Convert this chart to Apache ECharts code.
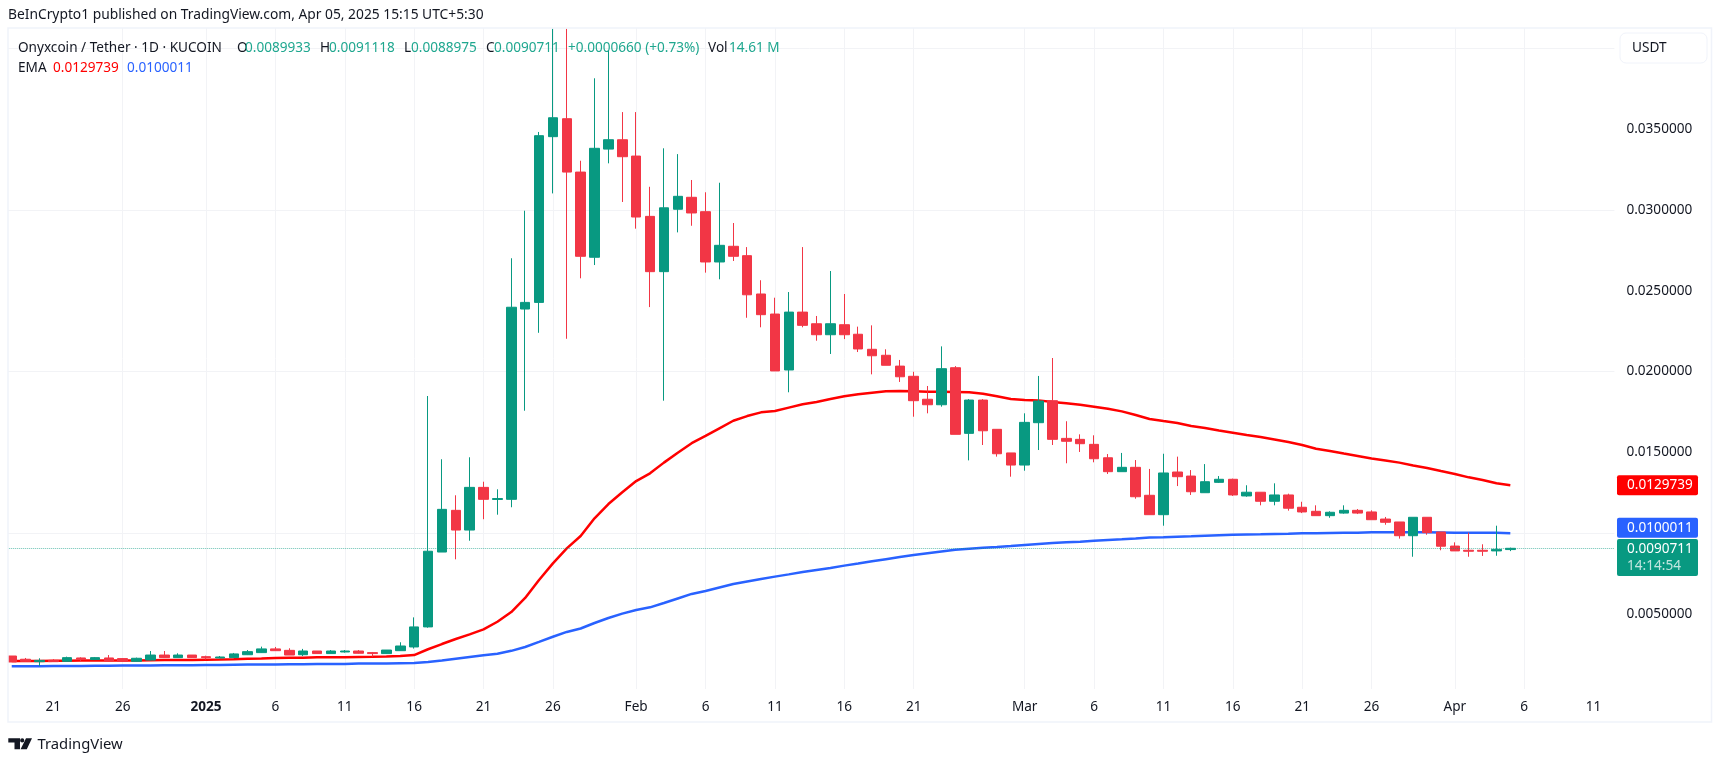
<!DOCTYPE html>
<html>
<head>
<meta charset="utf-8">
<title>Onyxcoin / Tether</title>
<style>
    html, body { margin: 0; padding: 0; background: #fff; }
    #chart { width: 1719px; height: 764px; }
</style>
<script src="https://cdn.jsdelivr.net/npm/echarts@6/dist/echarts.min.js"></script>
</head>
<body>
<div id="chart"></div>
<script>
const FONT = '"Noto Sans", sans-serif';
const FONT_SIZE = 13.6;
const UP = '#089981';
const UP_TEXT = '#1fa78f';
const DOWN = '#f23645';
const TEXT = '#131722';

// one entry per day, Dec 18 to Apr 12 (the last week is empty space)
const dates = [
    'Dec 18', 'Dec 19', 'Dec 20', 'Dec 21', 'Dec 22', 'Dec 23', 'Dec 24', 'Dec 25', 'Dec 26', 'Dec 27', 'Dec 28', 'Dec 29', 'Dec 30', 'Dec 31',
    'Jan 1', 'Jan 2', 'Jan 3', 'Jan 4', 'Jan 5', 'Jan 6', 'Jan 7', 'Jan 8', 'Jan 9', 'Jan 10', 'Jan 11', 'Jan 12', 'Jan 13', 'Jan 14', 'Jan 15', 'Jan 16',
    'Jan 17', 'Jan 18', 'Jan 19', 'Jan 20', 'Jan 21', 'Jan 22', 'Jan 23', 'Jan 24', 'Jan 25', 'Jan 26', 'Jan 27', 'Jan 28', 'Jan 29', 'Jan 30', 'Jan 31',
    'Feb 1', 'Feb 2', 'Feb 3', 'Feb 4', 'Feb 5', 'Feb 6', 'Feb 7', 'Feb 8', 'Feb 9', 'Feb 10', 'Feb 11', 'Feb 12', 'Feb 13', 'Feb 14', 'Feb 15',
    'Feb 16', 'Feb 17', 'Feb 18', 'Feb 19', 'Feb 20', 'Feb 21', 'Feb 22', 'Feb 23', 'Feb 24', 'Feb 25', 'Feb 26', 'Feb 27', 'Feb 28',
    'Mar 1', 'Mar 2', 'Mar 3', 'Mar 4', 'Mar 5', 'Mar 6', 'Mar 7', 'Mar 8', 'Mar 9', 'Mar 10', 'Mar 11', 'Mar 12', 'Mar 13', 'Mar 14', 'Mar 15',
    'Mar 16', 'Mar 17', 'Mar 18', 'Mar 19', 'Mar 20', 'Mar 21', 'Mar 22', 'Mar 23', 'Mar 24', 'Mar 25', 'Mar 26', 'Mar 27', 'Mar 28', 'Mar 29', 'Mar 30', 'Mar 31',
    'Apr 1', 'Apr 2', 'Apr 3', 'Apr 4', 'Apr 5', 'Apr 6', 'Apr 7', 'Apr 8', 'Apr 9', 'Apr 10', 'Apr 11', 'Apr 12',
];

const tickDates = ['Dec 21', 'Dec 26', 'Jan 1', 'Jan 6', 'Jan 11', 'Jan 16', 'Jan 21', 'Jan 26', 'Feb 1', 'Feb 6', 'Feb 11', 'Feb 16', 'Feb 21', 'Mar 1', 'Mar 6', 'Mar 11', 'Mar 16', 'Mar 21', 'Mar 26', 'Apr 1', 'Apr 6', 'Apr 11'];
const tickTexts = ['21', '26', '2025', '6', '11', '16', '21', '26', 'Feb', '6', '11', '16', '21', 'Mar', '6', '11', '16', '21', '26', 'Apr', '6', '11'];

const priceTicks = [0.005, 0.01, 0.015, 0.02, 0.025, 0.03, 0.035];
const gridTicks = [0.005, 0.01, 0.015, 0.02, 0.025, 0.03, 0.035, 0.04];

const opens = [
    0.00241, 0.00221, 0.00206, 0.00214, 0.00208, 0.00229, 0.00219, 0.00229, 0.00225, 0.00208, 0.00216, 0.00247, 0.00231, 0.00247,
    0.00237, 0.00229, 0.00231, 0.00249, 0.00262, 0.00285, 0.00276, 0.00249, 0.00272, 0.00256, 0.00266, 0.00272, 0.00262, 0.00256, 0.00274, 0.00297,
    0.00421, 0.00884, 0.01142, 0.0102, 0.01284, 0.01209, 0.0121, 0.02387, 0.02428, 0.03453, 0.03564, 0.03234, 0.02707, 0.03376, 0.03434, 0.03333,
    0.0296, 0.02618, 0.03004, 0.03078, 0.02989, 0.02678, 0.02775, 0.02717, 0.0248, 0.02356,
    0.0201, 0.02368, 0.02296, 0.02228, 0.0229, 0.02231, 0.02138, 0.02101, 0.02034, 0.01971, 0.01829, 0.01795, 0.02024, 0.01618, 0.01824, 0.01643, 0.01497, 0.01422,
    0.01684, 0.0182, 0.01587, 0.01581, 0.0155, 0.01467, 0.01381, 0.01408, 0.01235, 0.01115, 0.01379, 0.01354, 0.01251, 0.01315, 0.01334, 0.01231, 0.01254, 0.01198,
    0.01237, 0.01161, 0.01136, 0.01109, 0.01125, 0.01142, 0.01132, 0.01088, 0.0107, 0.00985, 0.01099, 0.01008, 0.00921, 0.00895, 0.00895, 0.00891, 0.0089933,
];
const closes = [
    0.00204, 0.00208, 0.00214, 0.00206, 0.00231, 0.00221, 0.00231, 0.0021, 0.00208, 0.00227, 0.00247, 0.00231, 0.00247, 0.00231,
    0.00231, 0.00235, 0.00254, 0.00268, 0.00285, 0.00274, 0.00247, 0.00272, 0.00256, 0.00272, 0.00272, 0.00258, 0.00256, 0.00278, 0.00303, 0.00421,
    0.00889, 0.01148, 0.0102, 0.01284, 0.0121, 0.01215, 0.02398, 0.02428, 0.03459, 0.0357, 0.03234, 0.02713, 0.03381, 0.03434, 0.03329, 0.02956,
    0.02618, 0.03013, 0.03084, 0.02981, 0.02678, 0.02781, 0.02713, 0.02475, 0.02352, 0.02004,
    0.02368, 0.02286, 0.02228, 0.02296, 0.02228, 0.0214, 0.02098, 0.02039, 0.01968, 0.0182, 0.01795, 0.02018, 0.01612, 0.01824, 0.01634, 0.01492, 0.01422, 0.01686,
    0.01818, 0.01581, 0.01569, 0.01554, 0.01461, 0.01381, 0.01408, 0.01226, 0.01115, 0.01373, 0.0135, 0.01257, 0.01319, 0.01334, 0.01237, 0.01254, 0.01198, 0.01237,
    0.01155, 0.01132, 0.01109, 0.0113, 0.01142, 0.01125, 0.01084, 0.01068, 0.00985, 0.01099, 0.01004, 0.0092, 0.00891, 0.00889, 0.00889, 0.009005, 0.0090711,
];
const lows = [
    0.00204, 0.00204, 0.00179, 0.00206, 0.00206, 0.00208, 0.00216, 0.00208, 0.00206, 0.00206, 0.00214, 0.00229, 0.00229, 0.00229,
    0.00219, 0.00227, 0.00229, 0.00247, 0.0026, 0.00272, 0.00247, 0.00241, 0.00256, 0.00254, 0.00262, 0.00256, 0.00237, 0.00254, 0.00272, 0.00287,
    0.00416, 0.00884, 0.00839, 0.00954, 0.01087, 0.01115, 0.01161, 0.01758, 0.0224, 0.03102, 0.02203, 0.02577, 0.02659, 0.03288, 0.03049, 0.02884,
    0.02399, 0.0182, 0.02861, 0.02902, 0.02612, 0.02571, 0.02684, 0.02333, 0.02274, 0.02004,
    0.01872, 0.02274, 0.02191, 0.02109, 0.02201, 0.02121, 0.01983, 0.02039, 0.01936, 0.01721, 0.01742, 0.01783, 0.01612, 0.01451, 0.01546, 0.01474, 0.0135, 0.01387,
    0.01515, 0.01546, 0.01433, 0.01503, 0.01439, 0.01367, 0.01381, 0.01214, 0.01115, 0.01047, 0.01292, 0.01237, 0.01251, 0.01311, 0.01231, 0.01226, 0.01173, 0.01173,
    0.0114, 0.01125, 0.01109, 0.01096, 0.01121, 0.01119, 0.01084, 0.01053, 0.00967, 0.00855, 0.00991, 0.00895, 0.00891, 0.00855, 0.0086, 0.00861, 0.0088975,
];
const highs = [
    0.00241, 0.00229, 0.00227, 0.00221, 0.00237, 0.00233, 0.00235, 0.00247, 0.00227, 0.00231, 0.00272, 0.00272, 0.00258, 0.00247,
    0.00243, 0.00241, 0.0026, 0.00278, 0.00299, 0.00297, 0.00289, 0.00285, 0.00272, 0.00278, 0.00278, 0.00278, 0.00266, 0.00278, 0.00326, 0.0048,
    0.01849, 0.01458, 0.01235, 0.0147, 0.01319, 0.01272, 0.02701, 0.02995, 0.03482, 0.0412, 0.0412, 0.03304, 0.03814, 0.03989, 0.03605, 0.03605,
    0.03143, 0.03381, 0.03345, 0.03185, 0.03109, 0.03168, 0.02919, 0.0277, 0.02565, 0.02457,
    0.02492, 0.0277, 0.02344, 0.02622, 0.0248, 0.02278, 0.02286, 0.02138, 0.02072, 0.01999, 0.01911, 0.02156, 0.02034, 0.0183, 0.0183, 0.01643, 0.01497, 0.01742,
    0.01973, 0.02084, 0.01693, 0.01612, 0.01606, 0.0149, 0.01497, 0.01453, 0.01398, 0.01492, 0.01474, 0.01391, 0.01428, 0.01354, 0.01338, 0.01297, 0.01254, 0.01309,
    0.01245, 0.01195, 0.01173, 0.01136, 0.01173, 0.0115, 0.01142, 0.01101, 0.0107, 0.01099, 0.01099, 0.01008, 0.00944, 0.01004, 0.00932, 0.01047, 0.0091118,
];

const emaFast = [
    0.0021, 0.0021, 0.0021, 0.00211, 0.00212, 0.00213, 0.00213, 0.00213, 0.00213, 0.00214, 0.00215, 0.00216, 0.00216, 0.00217,
    0.00218, 0.00219, 0.00221, 0.00224, 0.00226, 0.00229, 0.0023, 0.00231, 0.00233, 0.00233, 0.00234, 0.00235, 0.00236, 0.00238, 0.00241, 0.00247,
    0.00283, 0.00315, 0.00346, 0.00375, 0.00406, 0.00453, 0.00513, 0.006, 0.00711, 0.00814, 0.00907, 0.00983, 0.01093, 0.01181, 0.01254, 0.01323,
    0.01371, 0.01437, 0.01498, 0.01557, 0.01602, 0.01649, 0.01696, 0.01725, 0.01748, 0.01756,
    0.01777, 0.01798, 0.01812, 0.0183, 0.01847, 0.0186, 0.01869, 0.01878, 0.0188, 0.01878, 0.01876, 0.01876, 0.01874, 0.01872, 0.01863, 0.01847, 0.0183, 0.01824,
    0.01822, 0.01812, 0.01804, 0.01795, 0.01783, 0.0177, 0.01754, 0.01732, 0.01707, 0.01694, 0.01682, 0.01663, 0.01651, 0.01636, 0.01622, 0.01608, 0.01595, 0.0158,
    0.01565, 0.01546, 0.01523, 0.01509, 0.01493, 0.01478, 0.01463, 0.0145, 0.01437, 0.01419, 0.01404, 0.01385, 0.01367, 0.01346, 0.0133, 0.01309, 0.0129739,
];
const emaSlow = [
    0.00177, 0.00178, 0.00178, 0.00179, 0.00179, 0.00179, 0.00181, 0.00181, 0.00182, 0.00182, 0.00183, 0.00184, 0.00184, 0.00184,
    0.00186, 0.00186, 0.00187, 0.00188, 0.00189, 0.00189, 0.0019, 0.0019, 0.00191, 0.00192, 0.00192, 0.00194, 0.00194, 0.00195, 0.00197, 0.00198,
    0.00204, 0.00213, 0.00224, 0.00235, 0.00246, 0.00255, 0.00273, 0.00297, 0.00328, 0.0036, 0.0039, 0.00411, 0.00445, 0.00476, 0.00503, 0.00526,
    0.00542, 0.00569, 0.00597, 0.00625, 0.00643, 0.00665, 0.00686, 0.00702, 0.00717, 0.00732,
    0.00746, 0.00761, 0.00773, 0.00785, 0.008, 0.00813, 0.00827, 0.0084, 0.00853, 0.00866, 0.00877, 0.00888, 0.00898, 0.00904, 0.0091, 0.00915, 0.00921, 0.00928,
    0.00934, 0.0094, 0.00944, 0.00947, 0.00954, 0.00959, 0.00963, 0.00968, 0.00974, 0.00975, 0.00978, 0.00981, 0.00985, 0.00988, 0.00991, 0.00993, 0.00994, 0.00996,
    0.00997, 0.01, 0.01001, 0.01002, 0.01003, 0.01004, 0.01006, 0.01006, 0.01006, 0.01006, 0.01006, 0.01005, 0.01004, 0.01004, 0.01003, 0.01003, 0.0100011,
];

const lastClose = 0.0090711;
const lastEmaFast = 0.0129739;
const lastEmaSlow = 0.0100011;

const chart = echarts.init(document.getElementById('chart'), null, { renderer: 'canvas' });

chart.setOption({
    animation: false,
    backgroundColor: '#ffffff',
    grid: { left: 4.8, right: 104.6, top: 28, bottom: 75 },
    xAxis: {
        type: 'category',
        data: dates,
        boundaryGap: true,
        axisLine: { show: false },
        axisTick: { show: false },
        splitLine: {
            show: true,
            alignWithLabel: true,
            showMinLine: false,
            showMaxLine: false,
            interval: (i, d) => tickDates.includes(d),
            lineStyle: { color: '#f2f3f6', width: 1 },
        },
        axisLabel: {
            interval: (i, d) => tickDates.includes(d),
            margin: 11,
            color: TEXT,
            fontFamily: FONT,
            fontSize: FONT_SIZE,
            formatter: (d) => {
                const text = tickTexts[tickDates.indexOf(d)];
                return text === '2025' ? '{year|2025}' : text;
            },
            rich: { year: { fontFamily: FONT, fontSize: FONT_SIZE, fontWeight: 'bold', color: TEXT } },
        },
    },
    yAxis: {
        type: 'value',
        position: 'right',
        min: 0.00037,
        max: 0.04125,
        axisLine: { show: false },
        axisTick: { show: false },
        splitLine: {
            show: true,
            customValues: gridTicks,
            showMinLine: false,
            showMaxLine: false,
            lineStyle: { color: '#f2f3f6', width: 1 },
        },
        axisLabel: {
            customValues: priceTicks,
            margin: 12,
            color: TEXT,
            fontFamily: FONT,
            fontSize: FONT_SIZE,
            formatter: (v) => v.toFixed(7),
        },
    },
    series: [
        {
            name: 'EMA fast',
            type: 'line',
            data: emaFast,
            showSymbol: false,
            z: 1,
            lineStyle: { color: '#ff0000', width: 2.5 },
        },
        {
            name: 'EMA slow',
            type: 'line',
            data: emaSlow,
            showSymbol: false,
            z: 1,
            lineStyle: { color: '#2962ff', width: 2.5 },
        },
        {
            name: 'ONYX',
            type: 'candlestick',
            data: opens.map((o, i) => [o, closes[i], lows[i], highs[i]]),
            barWidth: 10,
            z: 3,
            itemStyle: {
                color: UP,
                color0: DOWN,
                borderColor: UP,
                borderColor0: DOWN,
                borderWidth: 1,
            },
            markLine: {
                silent: true,
                symbol: 'none',
                precision: 7, // default rounds the level to 2 decimals
                label: { show: false },
                lineStyle: { color: UP, type: 'dotted', width: 1, opacity: 0.6 },
                data: [{ yAxis: lastClose }],
            },
        },
    ],
});

function label(x, y, text, color, extra) {
    return {
        type: 'text',
        x,
        y,
        z: 30,
        silent: true,
        style: Object.assign({ text, fill: color, font: FONT_SIZE + 'px ' + FONT, textVerticalAlign: 'middle' }, extra),
    };
}

// price tag on the scale, sits on the value unless shifted to avoid the next one
function tag(value, shift, color, height) {
    const y = chart.convertToPixel({ yAxisIndex: 0 }, value) + shift;
    return {
        type: 'rect',
        z: 25,
        silent: true,
        shape: { x: 1617, y: y - 10, width: 81, height, r: 2 },
        style: { fill: color },
    };
}

const fastY = chart.convertToPixel({ yAxisIndex: 0 }, lastEmaFast);
const slowY = chart.convertToPixel({ yAxisIndex: 0 }, lastEmaSlow) - 5.5;
const closeY = chart.convertToPixel({ yAxisIndex: 0 }, lastClose);

chart.setOption({
    graphic: [
        // the pane's frame and the white margin the first candle is cut by
        { type: 'rect', z: 20, silent: true, shape: { x: 0, y: 20, width: 8, height: 672 }, style: { fill: '#ffffff' } },
        { type: 'rect', z: 21, silent: true, shape: { x: 8, y: 28, width: 1703.5, height: 694 }, style: { fill: 'none', stroke: '#f0f3fa', lineWidth: 1.5 } },

        label(8, 15, 'BeInCrypto1 published on TradingView.com, Apr 05, 2025 15:15 UTC+5:30', TEXT, { font: '13.8px ' + FONT }),

        label(18, 48, 'Onyxcoin / Tether · 1D · KUCOIN', TEXT),
        label(237, 48, 'O', TEXT),
        label(245, 48, '0.0089933', UP_TEXT),
        label(320, 48, 'H', TEXT),
        label(329, 48, '0.0091118', UP_TEXT),
        label(404, 48, 'L', TEXT),
        label(411, 48, '0.0088975', UP_TEXT),
        label(486, 48, 'C', TEXT),
        label(494, 48, '0.0090711', UP_TEXT),
        label(568, 48, '+0.0000660 (+0.73%)', UP_TEXT),
        label(708, 48, 'Vol', TEXT),
        label(729, 48, '14.61 M', UP_TEXT),
        label(18, 68, 'EMA', TEXT),
        label(53, 68, '0.0129739', '#ff0000'),
        label(127, 68, '0.0100011', '#2962ff'),

        { type: 'rect', z: 25, silent: true, shape: { x: 1620, y: 33, width: 87, height: 30, r: 6 }, style: { fill: '#ffffff', stroke: '#f0f3fa', lineWidth: 1 } },
        label(1632, 48, 'USDT', TEXT),

        tag(lastEmaFast, 0, '#ff0000', 20),
        label(1627, fastY, '0.0129739', '#ffffff'),
        tag(lastEmaSlow, -5.5, '#2962ff', 20),
        label(1627, slowY, '0.0100011', '#ffffff'),
        tag(lastClose, 0.7, UP, 37),
        label(1627, closeY + 0.7, '0.0090711', '#ffffff'),
        label(1627, closeY + 17.5, '14:14:54', 'rgba(255,255,255,0.75)'),

        // logo mark: T, dot and slash
        { type: 'polygon', z: 25, silent: true, shape: { points: [[8.3, 738.3], [20, 738.3], [20, 749.3], [14.5, 749.3], [14.5, 742.6], [8.3, 742.6]] }, style: { fill: TEXT } },
        { type: 'circle', z: 25, silent: true, shape: { cx: 22.2, cy: 740.4, r: 2.1 }, style: { fill: TEXT } },
        { type: 'polygon', z: 25, silent: true, shape: { points: [[26, 738.3], [32, 738.3], [26.8, 749.3], [20.6, 749.3]] }, style: { fill: TEXT } },
        label(37.5, 745, 'TradingView', TEXT, { font: '14.8px ' + FONT }),
    ],
});
</script>
</body>
</html>
